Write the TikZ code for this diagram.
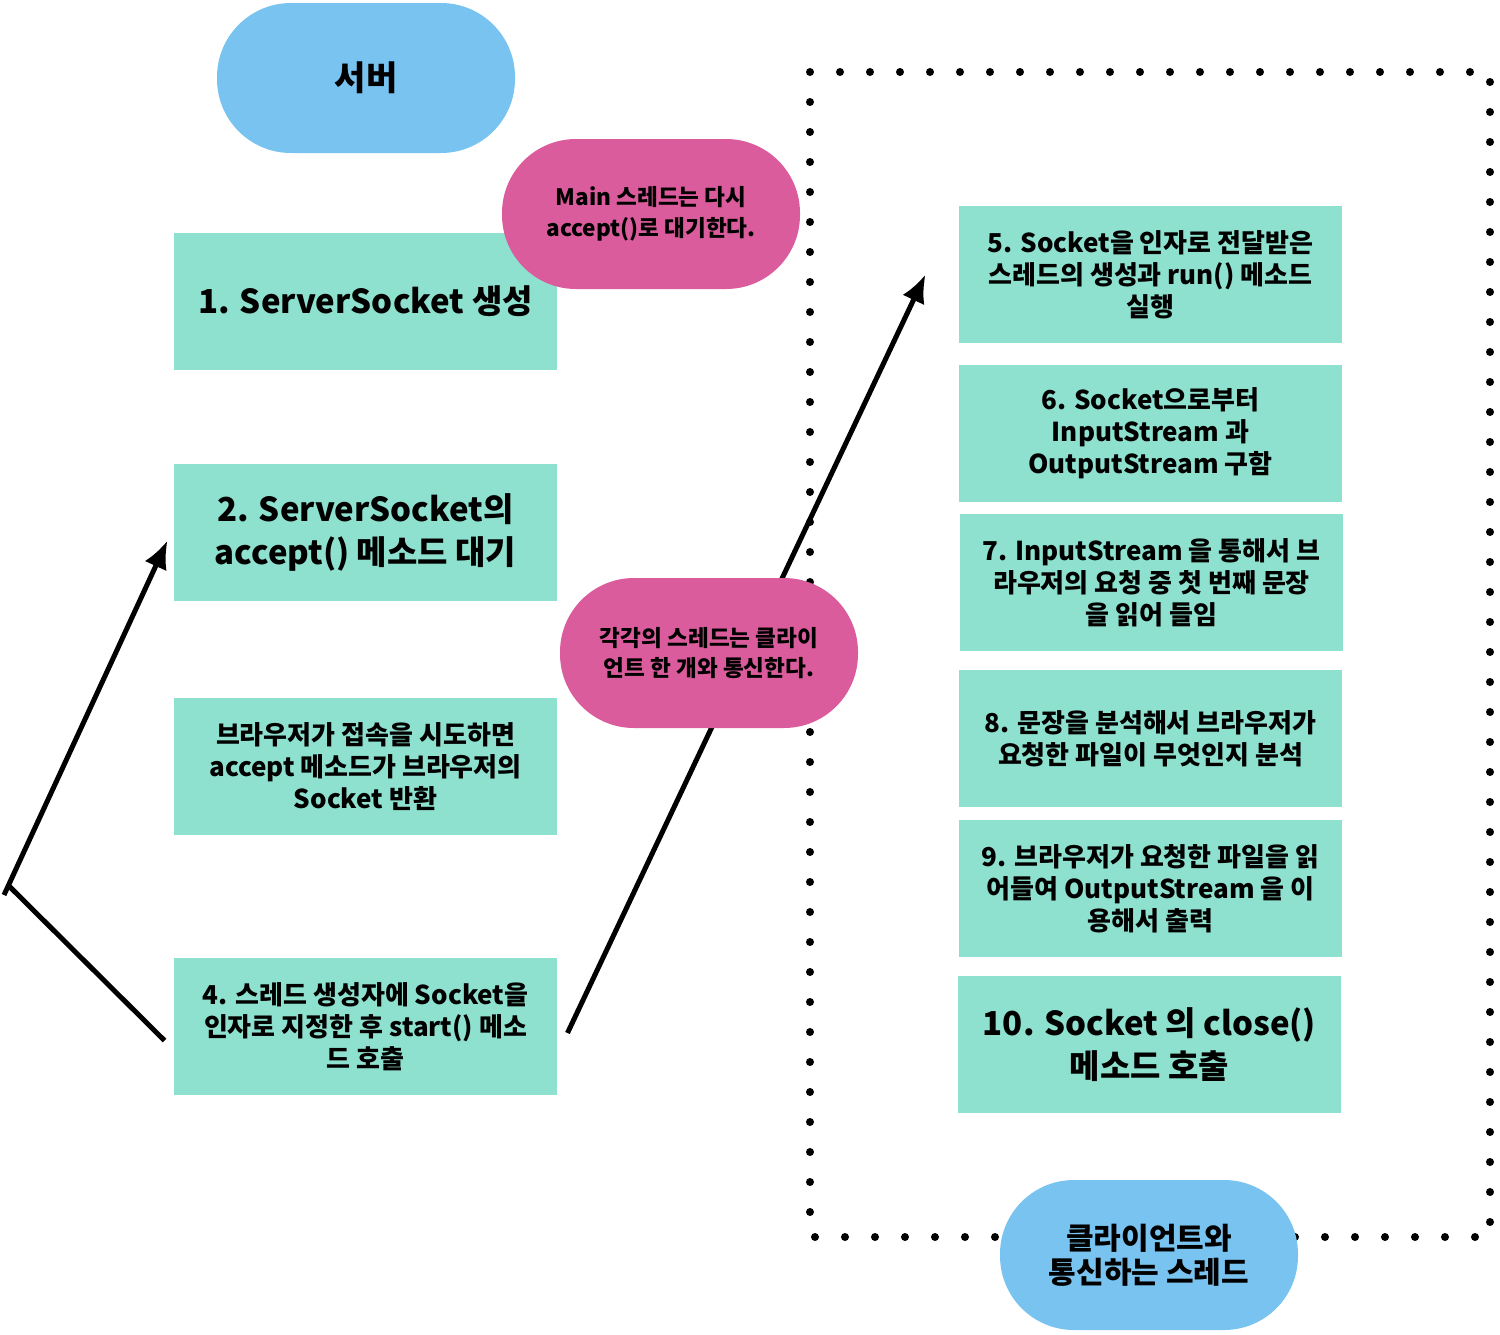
\documentclass[tikz,border=0pt]{standalone}
\usepackage{fontspec}
\setmainfont{Noto Sans CJK KR}
\usetikzlibrary{arrows.meta}
\definecolor{boxgreen}{HTML}{8EE0CF}
\definecolor{pillblue}{HTML}{78C3F0}
\definecolor{pillpink}{HTML}{DB5C9C}
\newcommand{\bigtext}{\bfseries\fontsize{16.5}{21.5}\selectfont}
\newcommand{\midtext}{\bfseries\fontsize{13}{16}\selectfont}
\begin{document}
\begin{tikzpicture}[x=0.5pt, y=-0.5pt, line width=2.5pt,
        box/.style = {fill=boxgreen, inner sep=0pt, minimum width=191.5pt, minimum height=68.5pt, align=center, font=\midtext},
        pill/.style = {rounded corners=37pt, inner sep=0pt, minimum width=149pt, minimum height=75pt, align=center},
        arrow/.style = {-{Latex[length=14pt,width=12pt]}},
        dots/.style = {line width=4pt, line cap=round, dash pattern=on 0pt off 15pt}]
    \useasboundingbox (0,0) rectangle (1500,1334);

    % thread area
    \draw[dots] (810,72) rectangle (1490,1237);

    % server side
    \node[pill, fill=pillblue, font=\bfseries\fontsize{17}{20}\selectfont] (server) at (366,78) {서버};
    \node[box, font=\bigtext] (1) at (365.5,301) {1. ServerSocket 생성};
    \node[box, font=\bigtext] (2) at (365.5,532.5) {2. ServerSocket의\\accept() 메소드 대기};
    \node[box] (3) at (365.5,766.5) {브라우저가 접속을 시도하면\\accept 메소드가 브라우저의\\Socket 반환};
    \node[box] (4) at (365.5,1026.5) {4. 스레드 생성자에 Socket을\\인자로 지정한 후 start() 메소\\드 호출};

    % thread side
    \node[box] (5) at (1150.5,274.5) {5. Socket을 인자로 전달받은\\스레드의 생성과 run() 메소드\\실행};
    \node[box] (6) at (1150.5,433.5) {6. Socket으로부터\\InputStream 과\\OutputStream 구함};
    \node[box] (7) at (1151.5,582.5) {7. InputStream 을 통해서 브\\라우저의 요청 중 첫 번째 문장\\을 읽어 들임};
    \node[box] (8) at (1150.5,738.5) {8. 문장을 분석해서 브라우저가\\요청한 파일이 무엇인지 분석};
    \node[box] (9) at (1150.5,888.5) {9. 브라우저가 요청한 파일을 읽\\어들여 OutputStream 을 이\\용해서 출력};
    \node[box, font=\bigtext] (10) at (1149.5,1044.5) {10. Socket 의 close()\\메소드 호출};

    % connectors
    \coordinate (turn) at (8,885);
    \draw ([shift={(-3.5pt,-7pt)}]4.west) -- (turn);
    \draw[arrow] ([shift={(-2pt,-5pt)}]turn) -- ([shift={(-2pt,-4pt)}]2.west);
    \draw[arrow] ([shift={(4pt,-3.25pt)}]4.east) -- ([xshift=-15.5pt]5.west);

    % notes
    \node[pill, fill=pillpink, font=\bfseries\fontsize{11.3}{15.5}\selectfont] (main) at (651,214) {Main 스레드는 다시\\accept()로 대기한다.};
    \node[pill, fill=pillpink, font=\bfseries\fontsize{11.3}{15}\selectfont] (each) at (709,653) {각각의 스레드는 클라이\\언트 한 개와 통신한다.};
    \node[pill, fill=pillblue, font=\bfseries\fontsize{15}{17}\selectfont] (client) at (1149,1255) {클라이언트와\\통신하는 스레드};
\end{tikzpicture}
\end{document}
